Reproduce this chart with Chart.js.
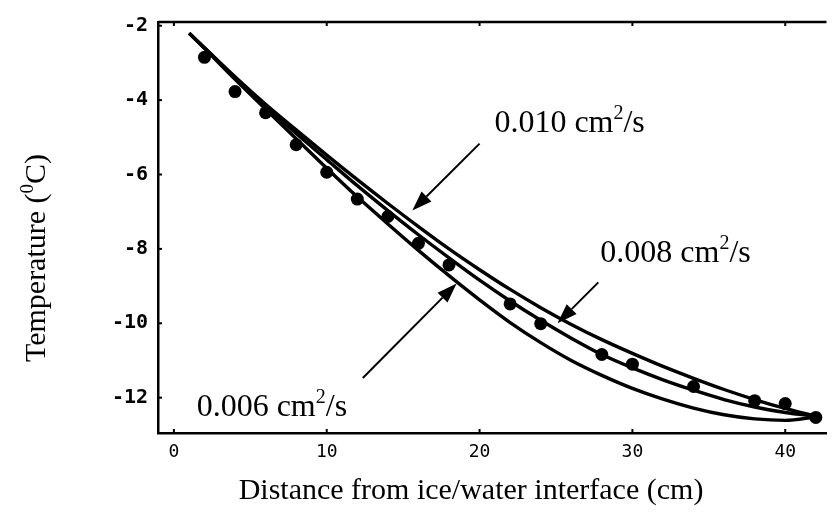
<!DOCTYPE html>
<html>
<head>
<meta charset="utf-8">
<script src="https://cdn.jsdelivr.net/npm/chart.js@4.4.1/dist/chart.umd.min.js"></script>
<style>
  html, body { margin: 0; padding: 0; background: #fff; }
  #wrap { width: 833px; height: 524px; }
</style>
</head>
<body>
<div id="wrap"><canvas id="c" width="833" height="524"></canvas></div>
<script>
// ---- data ----
const distance = [2, 4, 6, 8, 10, 12, 14, 16, 18, 22, 24, 28, 30, 34, 38, 40, 42];
const measured = [-2.85, -3.77, -4.34, -5.2, -5.94, -6.66, -7.13, -7.85, -8.43, -9.48, -10.01, -10.84, -11.1, -11.7, -12.08, -12.16, -12.53];

const curveX = [1, 2, 4, 6, 8, 10, 12, 14, 16, 18, 20, 22, 24, 26, 28, 30, 32, 34, 36, 38, 40, 42];
const diff010 = [-2.2, -2.59, -3.37, -4.11, -4.8, -5.48, -6.14, -6.78, -7.4, -8.0, -8.56, -9.09, -9.58, -10.03, -10.44, -10.81, -11.16, -11.48, -11.78, -12.05, -12.29, -12.5];
const diff008 = [-2.2, -2.6, -3.4, -4.16, -4.9, -5.6, -6.3, -6.97, -7.62, -8.24, -8.84, -9.4, -9.92, -10.4, -10.84, -11.2, -11.52, -11.8, -12.05, -12.25, -12.4, -12.5];
const diff006 = [-2.2, -2.61, -3.44, -4.24, -5.04, -5.83, -6.6, -7.33, -8.04, -8.72, -9.37, -9.98, -10.52, -11.0, -11.4, -11.75, -12.04, -12.28, -12.46, -12.57, -12.61, -12.52];

const xTicks = [0, 10, 20, 30, 40];
const yTicks = [-2, -4, -6, -8, -10, -12];

const curveLabels = ['0.010', '0.008', '0.006'];
// arrow start / tip and label anchor, in data units
const arrowFrom = [[20.0, -5.17], [27.77, -8.9], [12.36, -11.47]];
const arrowTo   = [[15.6, -6.97], [25.1, -10.0], [18.5, -8.93]];
const labelAt   = [[20.97, -4.86], [27.9, -8.35], [1.49, -12.5]];

const xTitle = 'Distance from ice/water interface (cm)';
const yTitle = 'Temperature (';

// ---- chart ----
function pts(xs, ys) { return xs.map((x, i) => ({ x: x, y: ys[i] })); }

const lineStyle = {
  type: 'line', borderColor: '#000', borderWidth: 3.4, pointRadius: 0,
  fill: false, tension: 0.4, cubicInterpolationMode: 'monotone'
};

const annot = {
  id: 'annot',
  afterDatasetsDraw(chart) {
    const ctx = chart.ctx;
    const xs = chart.scales.x, ys = chart.scales.y;
    const a = chart.chartArea;
    ctx.save();
    ctx.strokeStyle = '#000';
    ctx.fillStyle = '#000';
    // top frame line
    ctx.lineWidth = 2.5;
    ctx.beginPath();
    ctx.moveTo(a.left, a.top);
    ctx.lineTo(a.right, a.top);
    ctx.stroke();
    // small inward ticks
    ctx.lineWidth = 2;
    xTicks.forEach(v => {
      const px = xs.getPixelForValue(v);
      ctx.beginPath(); ctx.moveTo(px, a.bottom); ctx.lineTo(px, a.bottom - 4); ctx.stroke();
      ctx.beginPath(); ctx.moveTo(px, a.top); ctx.lineTo(px, a.top + 4); ctx.stroke();
    });
    yTicks.forEach(v => {
      const py = ys.getPixelForValue(v);
      ctx.beginPath(); ctx.moveTo(a.left, py); ctx.lineTo(a.left + 4, py); ctx.stroke();
    });
    // arrows
    ctx.lineWidth = 2;
    for (let i = 0; i < arrowFrom.length; i++) {
      const x0 = xs.getPixelForValue(arrowFrom[i][0]), y0 = ys.getPixelForValue(arrowFrom[i][1]);
      const x1 = xs.getPixelForValue(arrowTo[i][0]), y1 = ys.getPixelForValue(arrowTo[i][1]);
      const ang = Math.atan2(y1 - y0, x1 - x0);
      const L = 20, W = 7;
      const bx = x1 - L * Math.cos(ang), by = y1 - L * Math.sin(ang);
      ctx.beginPath(); ctx.moveTo(x0, y0); ctx.lineTo(bx, by); ctx.stroke();
      ctx.beginPath();
      ctx.moveTo(x1, y1);
      ctx.lineTo(bx + W * Math.sin(ang), by - W * Math.cos(ang));
      ctx.lineTo(bx - W * Math.sin(ang), by + W * Math.cos(ang));
      ctx.closePath(); ctx.fill();
    }
    // labels
    for (let i = 0; i < curveLabels.length; i++) {
      let px = xs.getPixelForValue(labelAt[i][0]);
      const py = ys.getPixelForValue(labelAt[i][1]);
      ctx.textAlign = 'left'; ctx.textBaseline = 'alphabetic';
      ctx.font = '32px "Liberation Serif"';
      const t1 = curveLabels[i] + ' cm';
      ctx.fillText(t1, px, py);
      px += ctx.measureText(t1).width;
      ctx.font = '20px "Liberation Serif"';
      ctx.fillText('2', px, py - 13);
      px += ctx.measureText('2').width;
      ctx.font = '32px "Liberation Serif"';
      ctx.fillText('/s', px, py);
    }
    // x title
    ctx.font = '30px "Liberation Serif"';
    ctx.textAlign = 'center';
    ctx.textBaseline = 'middle';
    ctx.fillText(xTitle, 471, 491);
    // y title (rotated)
    ctx.save();
    ctx.translate(37, 258);
    ctx.rotate(-Math.PI / 2);
    ctx.textAlign = 'left';
    ctx.font = '30px "Liberation Serif"';
    const w1 = ctx.measureText(yTitle).width;
    ctx.font = '19px "Liberation Serif"';
    const w2 = ctx.measureText('0').width;
    ctx.font = '30px "Liberation Serif"';
    const w3 = ctx.measureText('C)').width;
    let sx = -(w1 + w2 + w3) / 2;
    ctx.textBaseline = 'middle';
    ctx.fillText(yTitle, sx, 0);
    sx += w1;
    ctx.font = '19px "Liberation Serif"';
    ctx.fillText('0', sx, -9);
    sx += w2;
    ctx.font = '30px "Liberation Serif"';
    ctx.fillText('C)', sx, 0);
    ctx.restore();
    ctx.restore();
  }
};

new Chart(document.getElementById('c'), {
  type: 'scatter',
  data: {
    datasets: [
      Object.assign({ label: curveLabels[0], data: pts(curveX, diff010) }, lineStyle),
      Object.assign({ label: curveLabels[1], data: pts(curveX, diff008) }, lineStyle),
      Object.assign({ label: curveLabels[2], data: pts(curveX, diff006) }, lineStyle),
      { type: 'scatter', label: 'measured', data: pts(distance, measured),
        pointRadius: 6.5, pointBackgroundColor: '#000', pointBorderColor: '#000', borderWidth: 0 }
    ]
  },
  options: {
    responsive: false,
    animation: false,
    devicePixelRatio: 1,
    layout: { padding: { top: 15, right: 0, left: 0, bottom: 0 } },
    plugins: { legend: { display: false }, tooltip: { enabled: false } },
    scales: {
      x: {
        type: 'linear', min: -1.04, max: 42.7,
        afterBuildTicks: s => { s.ticks = xTicks.map(v => ({ value: v })); },
        afterFit: s => { s.height = 91; },
        grid: { display: false, drawTicks: false },
        border: { display: true, color: '#000', width: 2.5 },
        ticks: { font: { family: '"DejaVu Sans Mono"', size: 18 }, color: '#000', padding: 9, maxRotation: 0 },
        title: { display: false }
      },
      y: {
        type: 'linear', min: -12.95, max: -1.9,
        afterBuildTicks: s => { s.ticks = yTicks.map(v => ({ value: v })); },
        afterFit: s => { s.width = 158; },
        grid: { display: false, drawTicks: false },
        border: { display: true, color: '#000', width: 2.5 },
        ticks: { font: { family: '"DejaVu Sans Mono"', size: 20, weight: 'bold' }, color: '#000', padding: 10 }
      }
    }
  },
  plugins: [annot]
});
</script>
</body>
</html>
